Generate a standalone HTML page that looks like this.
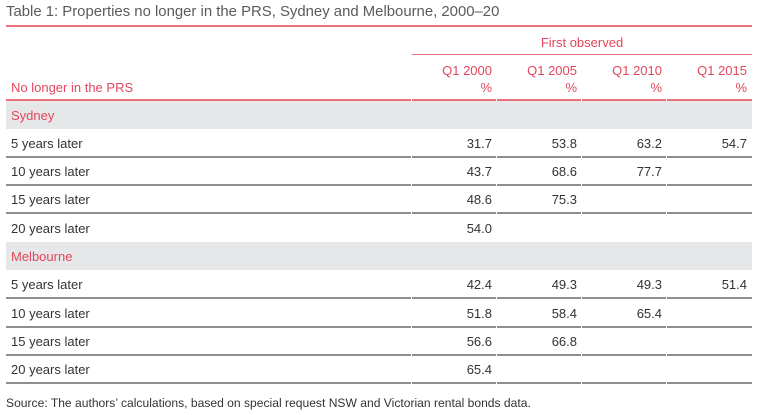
<!DOCTYPE html>
<html><head><meta charset="utf-8">
<style>
html,body{margin:0;padding:0;background:#fff;}
body{width:758px;height:415px;position:relative;overflow:hidden;font-family:"Liberation Sans",sans-serif;}
.a{position:absolute;white-space:nowrap;}
.title{left:6px;top:2px;font-size:14.9px;line-height:20px;color:#5b5b5b;}
.src{left:6px;top:394px;font-size:12.1px;line-height:18px;color:#333;}
.red{color:#e2465a;margin-top:1px;}
.lr{position:absolute;height:1.6px;background:#e9707c;}
.lg{position:absolute;height:1.6px;background:#8e8e8e;}
.band{position:absolute;left:6px;width:746px;background:#e6e7e8;}
.lab{left:11px;font-size:13px;color:#333;margin-top:1px;}
.num{font-size:13px;color:#333;text-align:right;width:80px;margin-top:1px;}
.hd{font-size:13px;text-align:right;width:80px;}
</style></head><body>
<div class="a title">Table 1: Properties no longer in the PRS, Sydney and Melbourne, 2000–20</div>
<div class="lr" style="left:6px;width:746px;top:25.4px;"></div>

<div class="a red" style="left:412px;width:340px;top:32px;line-height:20px;font-size:13px;text-align:center;">First observed</div>
<div class="lr" style="left:412px;width:340px;top:53.6px;"></div>

<div class="a red hd" style="left:412px;top:61px;line-height:18px;">Q1 2000</div>
<div class="a red hd" style="left:497px;top:61px;line-height:18px;">Q1 2005</div>
<div class="a red hd" style="left:582px;top:61px;line-height:18px;">Q1 2010</div>
<div class="a red hd" style="left:667px;top:61px;line-height:18px;">Q1 2015</div>
<div class="a red hd" style="left:412px;top:78px;line-height:18px;">%</div>
<div class="a red hd" style="left:497px;top:78px;line-height:18px;">%</div>
<div class="a red hd" style="left:582px;top:78px;line-height:18px;">%</div>
<div class="a red hd" style="left:667px;top:78px;line-height:18px;">%</div>
<div class="a red" style="left:11px;top:78px;line-height:18px;font-size:13px;">No longer in the PRS</div>

<div class="lr" style="left:6px;width:405px;top:99.4px;"></div>
<div class="lr" style="left:412px;width:84px;top:99.4px;"></div>
<div class="lr" style="left:497px;width:84px;top:99.4px;"></div>
<div class="lr" style="left:582px;width:84px;top:99.4px;"></div>
<div class="lr" style="left:667px;width:85px;top:99.4px;"></div>

<!-- Sydney -->
<div class="band" style="top:101px;height:28px;"></div>
<div class="a red" style="left:11px;top:101px;line-height:28px;font-size:13px;">Sydney</div>

<div class="a lab" style="top:129px;line-height:28px;">5 years later</div>
<div class="a num" style="left:412px;top:129px;line-height:28px;">31.7</div>
<div class="a num" style="left:497px;top:129px;line-height:28px;">53.8</div>
<div class="a num" style="left:582px;top:129px;line-height:28px;">63.2</div>
<div class="a num" style="left:667px;top:129px;line-height:28px;">54.7</div>

<div class="a lab" style="top:157px;line-height:28px;">10 years later</div>
<div class="a num" style="left:412px;top:157px;line-height:28px;">43.7</div>
<div class="a num" style="left:497px;top:157px;line-height:28px;">68.6</div>
<div class="a num" style="left:582px;top:157px;line-height:28px;">77.7</div>

<div class="a lab" style="top:185px;line-height:28px;">15 years later</div>
<div class="a num" style="left:412px;top:185px;line-height:28px;">48.6</div>
<div class="a num" style="left:497px;top:185px;line-height:28px;">75.3</div>

<div class="a lab" style="top:213px;line-height:29px;">20 years later</div>
<div class="a num" style="left:412px;top:213px;line-height:29px;">54.0</div>

<!-- Melbourne -->
<div class="band" style="top:242px;height:28px;"></div>
<div class="a red" style="left:11px;top:242px;line-height:28px;font-size:13px;">Melbourne</div>

<div class="a lab" style="top:270px;line-height:28px;">5 years later</div>
<div class="a num" style="left:412px;top:270px;line-height:28px;">42.4</div>
<div class="a num" style="left:497px;top:270px;line-height:28px;">49.3</div>
<div class="a num" style="left:582px;top:270px;line-height:28px;">49.3</div>
<div class="a num" style="left:667px;top:270px;line-height:28px;">51.4</div>

<div class="a lab" style="top:298px;line-height:29px;">10 years later</div>
<div class="a num" style="left:412px;top:298px;line-height:29px;">51.8</div>
<div class="a num" style="left:497px;top:298px;line-height:29px;">58.4</div>
<div class="a num" style="left:582px;top:298px;line-height:29px;">65.4</div>

<div class="a lab" style="top:327px;line-height:28px;">15 years later</div>
<div class="a num" style="left:412px;top:327px;line-height:28px;">56.6</div>
<div class="a num" style="left:497px;top:327px;line-height:28px;">66.8</div>

<div class="a lab" style="top:355px;line-height:28px;">20 years later</div>
<div class="a num" style="left:412px;top:355px;line-height:28px;">65.4</div>

<!-- grey rules -->
<div class="lg" style="left:6px;width:405px;top:156.2px;"></div><div class="lg" style="left:412px;width:84px;top:156.2px;"></div><div class="lg" style="left:497px;width:84px;top:156.2px;"></div><div class="lg" style="left:582px;width:84px;top:156.2px;"></div><div class="lg" style="left:667px;width:85px;top:156.2px;"></div>
<div class="lg" style="left:6px;width:405px;top:184.2px;"></div><div class="lg" style="left:412px;width:84px;top:184.2px;"></div><div class="lg" style="left:497px;width:84px;top:184.2px;"></div><div class="lg" style="left:582px;width:84px;top:184.2px;"></div><div class="lg" style="left:667px;width:85px;top:184.2px;"></div>
<div class="lg" style="left:6px;width:405px;top:212.2px;"></div><div class="lg" style="left:412px;width:84px;top:212.2px;"></div><div class="lg" style="left:497px;width:84px;top:212.2px;"></div><div class="lg" style="left:582px;width:84px;top:212.2px;"></div><div class="lg" style="left:667px;width:85px;top:212.2px;"></div>
<div class="lg" style="left:6px;width:405px;top:297.2px;"></div><div class="lg" style="left:412px;width:84px;top:297.2px;"></div><div class="lg" style="left:497px;width:84px;top:297.2px;"></div><div class="lg" style="left:582px;width:84px;top:297.2px;"></div><div class="lg" style="left:667px;width:85px;top:297.2px;"></div>
<div class="lg" style="left:6px;width:405px;top:326.2px;"></div><div class="lg" style="left:412px;width:84px;top:326.2px;"></div><div class="lg" style="left:497px;width:84px;top:326.2px;"></div><div class="lg" style="left:582px;width:84px;top:326.2px;"></div><div class="lg" style="left:667px;width:85px;top:326.2px;"></div>
<div class="lg" style="left:6px;width:405px;top:354.2px;"></div><div class="lg" style="left:412px;width:84px;top:354.2px;"></div><div class="lg" style="left:497px;width:84px;top:354.2px;"></div><div class="lg" style="left:582px;width:84px;top:354.2px;"></div><div class="lg" style="left:667px;width:85px;top:354.2px;"></div>
<div class="lg" style="left:6px;width:405px;top:382.2px;"></div><div class="lg" style="left:412px;width:84px;top:382.2px;"></div><div class="lg" style="left:497px;width:84px;top:382.2px;"></div><div class="lg" style="left:582px;width:84px;top:382.2px;"></div><div class="lg" style="left:667px;width:85px;top:382.2px;"></div>

<div class="a src">Source: The authors’ calculations, based on special request NSW and Victorian rental bonds data.</div>
</body></html>
